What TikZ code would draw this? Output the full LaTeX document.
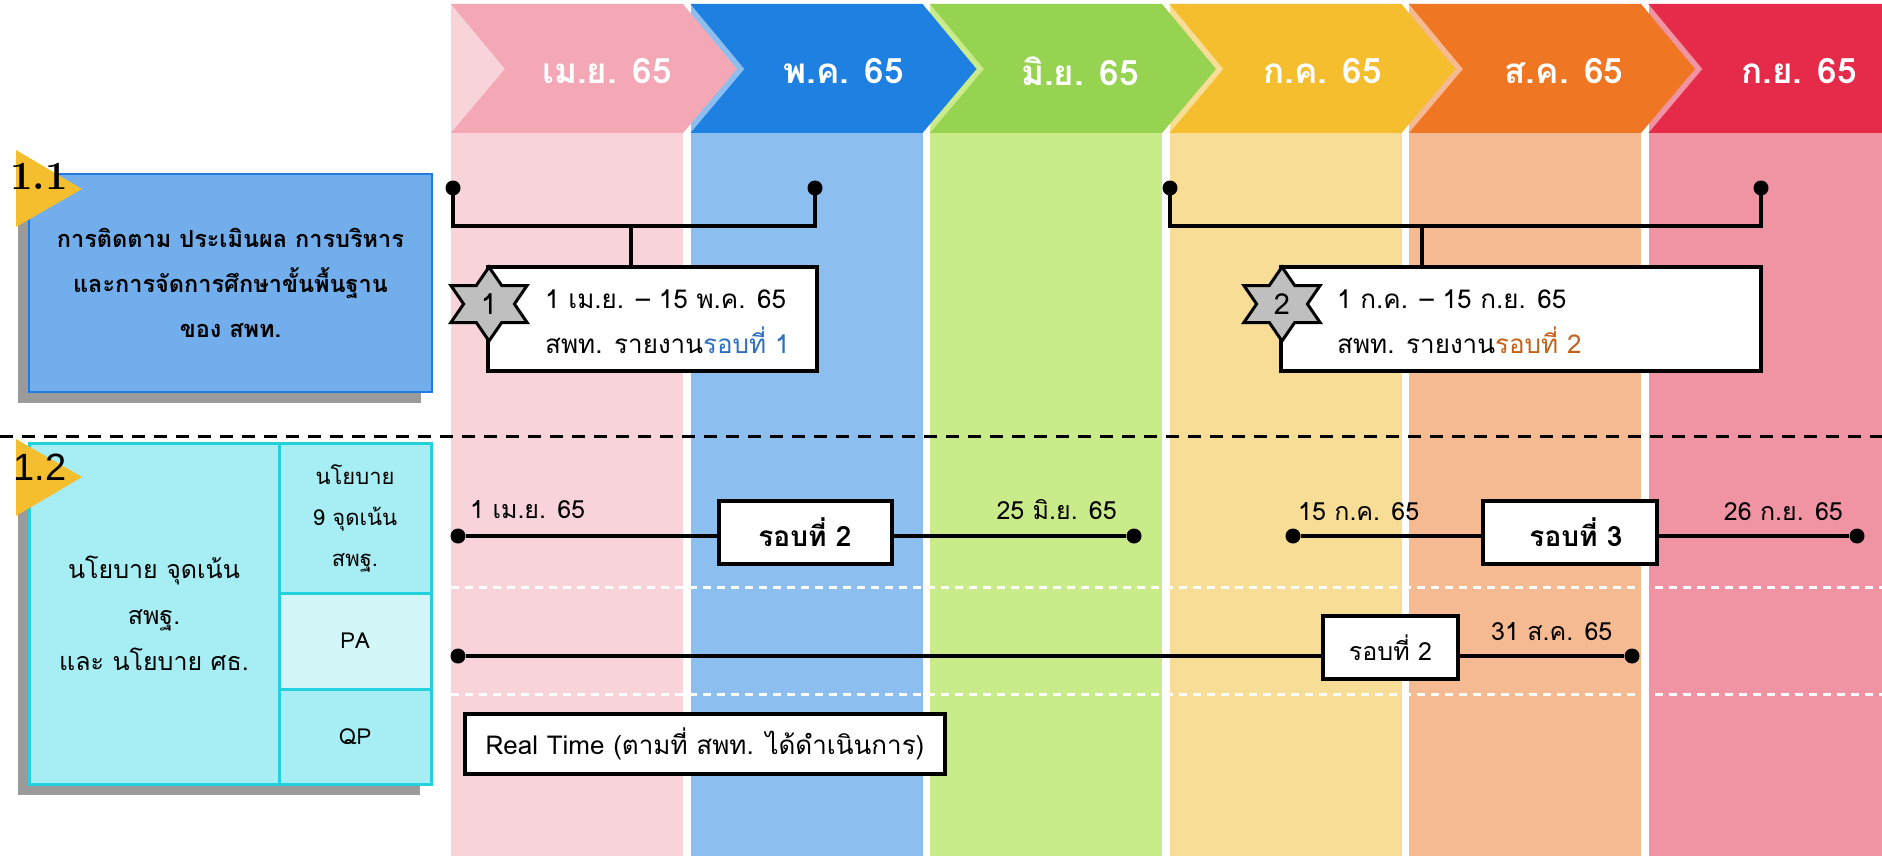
\documentclass[tikz,border=0pt]{standalone}
\usepackage{fontspec}
\newfontfamily\thai[Script=Thai]{Loma}
\newfontfamily\lsans{Liberation Sans}
\usetikzlibrary{calc}
\definecolor{hpink}{HTML}{F4A7B4}
\definecolor{hblue}{HTML}{1E80E0}
\definecolor{hgreen}{HTML}{96D351}
\definecolor{hyellow}{HTML}{F4BE2F}
\definecolor{horange}{HTML}{EF7724}
\definecolor{hred}{HTML}{E52A4A}
\definecolor{bpink}{HTML}{F9D3DA}
\definecolor{bblue}{HTML}{8DBEF0}
\definecolor{bgreen}{HTML}{C9EB89}
\definecolor{byellow}{HTML}{F8DD97}
\definecolor{borange}{HTML}{F6BA92}
\definecolor{bred}{HTML}{F093A3}
\definecolor{boxblue}{HTML}{72AEEB}
\definecolor{boxblueline}{HTML}{1F7BE0}
\definecolor{cyanfill}{HTML}{A6EEF3}
\definecolor{cyanlight}{HTML}{D3F6F9}
\definecolor{cyanline}{HTML}{22D0DE}
\definecolor{shadowgray}{HTML}{9A9A9A}
\definecolor{startgray}{HTML}{BFBFBF}
\definecolor{roundblue}{HTML}{2E6FBF}
\definecolor{roundorange}{HTML}{C5621A}
\tikzset{
  hdr/.style={font={\thai\bfseries\fontsize{35}{40}\selectfont}, text=white, inner sep=0pt},
  dot/.style={circle, fill=black, inner sep=0pt, minimum size=15pt},
  conn/.style={line width=4pt, black},
  infobox/.style={draw=black, line width=4pt, fill=white, inner sep=0pt},
  roundbox/.style={draw=black, line width=4pt, fill=white, inner sep=0pt,
     font={\thai\bfseries\fontsize{28}{32}\selectfont}},
  datelbl/.style={font={\thai\fontsize{25}{28}\selectfont}, inner sep=0pt},
  infotext/.style={font={\thai\fontsize{26}{45}\selectfont}, align=left, inner sep=0pt, anchor=west},
  sec11box/.style={draw=boxblueline, line width=2.5pt, fill=boxblue, inner sep=0pt,
     font={\thai\bfseries\fontsize{23.5}{45}\selectfont}, align=center},
  cell/.style={draw=cyanline, line width=3pt, fill=cyanfill, inner sep=0pt, align=center},
  tri/.style={fill=hyellow},
  starshape/.style={fill=startgray, draw=black, line width=3pt, line join=miter},
}
\begin{document}
\begin{tikzpicture}[x=1pt,y=-1pt]
\useasboundingbox (0,0) rectangle (1882,856);
\fill[white] (0,0) rectangle (1882,856);
% column bodies
\foreach \i/\c in {0/bpink,1/bblue,2/bgreen,3/byellow,4/borange}{
  \fill[\c] ({451+239.5*\i},4) rectangle ++(232,852);
}
\fill[bred] (1648.5,4) rectangle (1882,856);
% header chevrons
\foreach \i/\c in {0/hpink,1/hblue,2/hgreen,3/hyellow,4/horange}{
  \pgfmathsetmacro\s{451+239.5*\i}
  \pgfmathsetmacro\e{\s+232}
  \fill[\c] (\s,4) -- (\e,4) -- ({\e+54},69) -- (\e,133) -- (\s,133) -- ({\s+54},69) -- cycle;
}
\fill[hred] (1648.5,4) -- (1882,4) -- (1882,133) -- (1648.5,133) -- (1702.5,69) -- cycle;
\node[hdr] (h1) at (607,71) {เม.ย. 65};
\node[hdr] (h2) at (843.5,71) {พ.ค. 65};
\node[hdr] (h3) at (1080,71) {มิ.ย. 65};
\node[hdr] (h4) at (1322.5,71) {ก.ค. 65};
\node[hdr] (h5) at (1564,71) {ส.ค. 65};
\node[hdr] (h6) at (1799,71) {ก.ย. 65};

% section 1.1
\fill[shadowgray] (18,185) rectangle (421,403);
\node[sec11box, minimum width=403pt, minimum height=218pt] (sec11) at (230.5,283)
  {การติดตาม ประเมินผล การบริหาร\\และการจัดการศึกษาขั้นพื้นฐาน\\ของ สพท.};
\fill[tri] (16,150) -- (82,189) -- (16,227) -- cycle;
\node[font=\bfseries\fontsize{40}{42}\selectfont, inner sep=0pt] (n11) at (39,176) {1.1};

% separator
\draw[line width=3pt, dash pattern=on 13pt off 9pt] (0,436) -- (1882,436);

% section 1.2
\fill[shadowgray] (18,454) rectangle (420,795);
\node[cell, minimum width=250pt, minimum height=341pt, font={\thai\fontsize{25}{46}\selectfont}] (pol) at (154,613.5)
  {นโยบาย จุดเน้น\\สพฐ.\\และ นโยบาย ศธ.};
\node[cell, minimum width=152pt, minimum height=150pt, font={\thai\fontsize{22}{41}\selectfont}] (pol9) at (355,518)
  {นโยบาย\\9 จุดเน้น\\สพฐ.};
\node[cell, fill=cyanlight, minimum width=152pt, minimum height=96pt, font={\thai\fontsize{22}{26}\selectfont}] (pa) at (355,641) {PA};
\node[cell, minimum width=152pt, minimum height=95pt, font={\thai\fontsize{22}{26}\selectfont}] (qp) at (355,736.5) {QP};
\fill[tri] (16,439) -- (82,477) -- (16,516) -- cycle;
\node[font={\lsans\fontsize{38}{40}\selectfont}, inner sep=0pt] (n12) at (40,467) {1.2};

% white dashed rows
\draw[white, line width=3pt, dash pattern=on 8pt off 6pt] (451,587) -- (1882,587);
\draw[white, line width=3pt, dash pattern=on 8pt off 6pt] (451,694) -- (1882,694);

% bracket 1
\node[dot] (b1l) at (453,188) {};
\node[dot] (b1r) at (815,188) {};
\node[infobox, minimum width=329pt, minimum height=104pt] (box1) at (652.5,319) {};
\coordinate (j1) at (631,226);
\draw[conn] (b1l.center) -- (b1l.center |- j1) -- (b1r.center |- j1) -- (b1r.center);
\draw[conn] (j1) -- (j1 |- box1.north);
\node[infotext] (t1) at (545,322) {1 เม.ย. – 15 พ.ค. 65\\สพท. รายงาน\textcolor{roundblue}{รอบที่ 1}};
\coordinate (s1) at (489,304);
\draw[starshape] ($(s1)+(0,-37)$) -- ++(12.7,18.5) -- ++(25.4,0) -- ++(-12.7,18.5) -- ++(12.7,18.5) -- ++(-25.4,0)
  -- ++(-12.7,18.5) -- ++(-12.7,-18.5) -- ++(-25.4,0) -- ++(12.7,-18.5) -- ++(-12.7,-18.5) -- ++(25.4,0) -- cycle;
\node[font={\thai\fontsize{29}{30}\selectfont}, inner sep=0pt] (st1) at (s1) {1};

% bracket 2
\node[dot] (b2l) at (1170,188) {};
\node[dot] (b2r) at (1761,188) {};
\node[infobox, minimum width=480pt, minimum height=104pt] (box2) at (1521,319) {};
\coordinate (j2) at (1422,226);
\draw[conn] (b2l.center) -- (b2l.center |- j2) -- (b2r.center |- j2) -- (b2r.center);
\draw[conn] (j2) -- (j2 |- box2.north);
\node[infotext] (t2) at (1337,322) {1 ก.ค. – 15 ก.ย. 65\\สพท. รายงาน\textcolor{roundorange}{รอบที่ 2}};
\coordinate (s2) at (1282,304);
\draw[starshape] ($(s2)+(0,-37)$) -- ++(12.7,18.5) -- ++(25.4,0) -- ++(-12.7,18.5) -- ++(12.7,18.5) -- ++(-25.4,0)
  -- ++(-12.7,18.5) -- ++(-12.7,-18.5) -- ++(-25.4,0) -- ++(12.7,-18.5) -- ++(-12.7,-18.5) -- ++(25.4,0) -- cycle;
\node[font={\thai\fontsize{29}{30}\selectfont}, inner sep=0pt] (st2) at (s2) {2};

% 1.2 row 1 left
\node[dot] (r1a) at (458,536) {};
\node[dot] (r1b) at (1134,536) {};
\draw[conn] (r1a) -- (r1b);
\node[roundbox, minimum width=173pt, minimum height=63pt] (rb1) at (805,532.5) {รอบที่ 2};
\node[datelbl, anchor=west] (l1) at (470,510) {1 เม.ย. 65};
\node[datelbl, anchor=east] (l2) at (1117,510) {25 มิ.ย. 65};

% 1.2 row 1 right
\node[dot] (r2a) at (1293,536) {};
\node[dot] (r2b) at (1857,536) {};
\draw[conn] (r2a) -- (r2b);
\node[roundbox, minimum width=174pt, minimum height=63pt] (rb2) at (1570,532.5) {\hspace{12pt}รอบที่ 3};
\node[datelbl, anchor=west] (l3) at (1298,512) {15 ก.ค. 65};
\node[datelbl, anchor=east] (l4) at (1843,512) {26 ก.ย. 65};

% 1.2 row 2 (PA)
\node[dot] (r3a) at (458,656) {};
\node[dot] (r3b) at (1632,656) {};
\draw[conn] (r3a) -- (r3b);
\node[roundbox, font={\thai\fontsize{25}{30}\selectfont}, minimum width=135pt, minimum height=63pt] (rb3) at (1390.5,647.5) {รอบที่ 2};
\node[datelbl, anchor=west] (l5) at (1491,632) {31 ส.ค. 65};

% QP row
\node[roundbox, font={\thai\fontsize{26}{30}\selectfont}, minimum width=480pt, minimum height=60pt] (rt) at (705,744)
  {Real Time (ตามที่ สพท. ได้ดำเนินการ)};
\end{tikzpicture}
\end{document}
